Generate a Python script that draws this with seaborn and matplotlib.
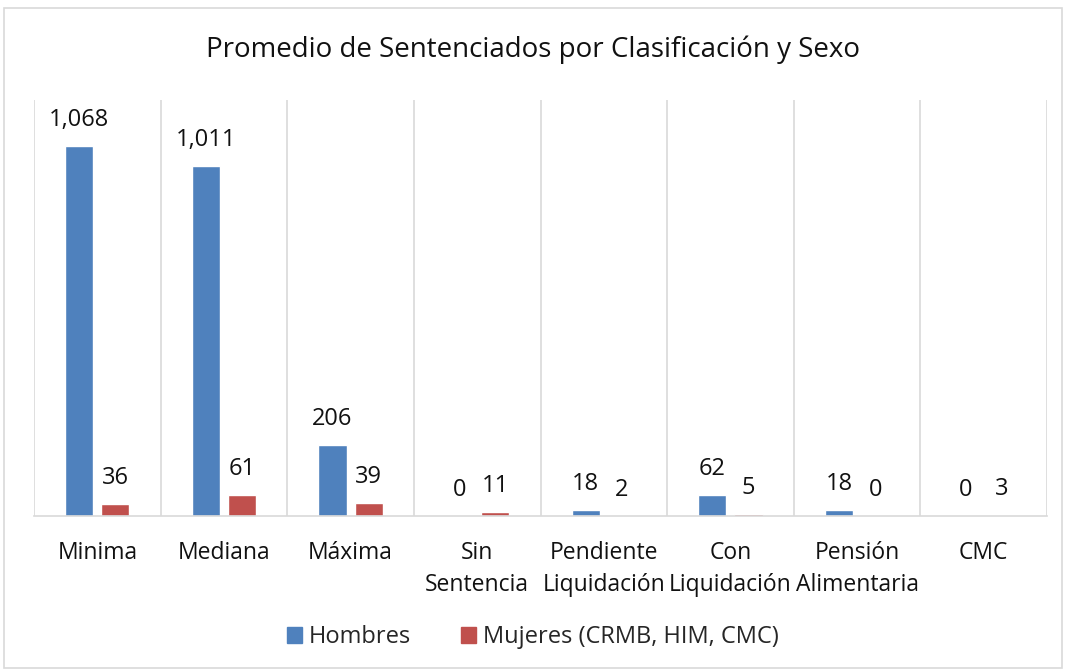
import numpy as np
import pandas as pd
import seaborn as sns
import matplotlib.pyplot as plt
from matplotlib.patches import Rectangle

categorias = ['Minima', 'Mediana', 'Máxima', 'Sin\nSentencia', 'Pendiente\nLiquidación',
              'Con\nLiquidación', 'Pensión\nAlimentaria', 'CMC']
hombres = [1068, 1011, 206, 0, 18, 62, 18, 0]
mujeres = [36, 61, 39, 11, 2, 5, 0, 3]
series = ['Hombres', 'Mujeres (CRMB, HIM, CMC)']
colores = ['#4F81BD', '#C0504D']

df = pd.DataFrame({
    'categoria': categorias * 2,
    'valor': hombres + mujeres,
    'sexo': [series[0]] * len(categorias) + [series[1]] * len(categorias),
})

sns.set_theme(style='white')
plt.rcParams['font.family'] = ['Open Sans', 'DejaVu Sans']

fig = plt.figure(figsize=(10.66, 6.72), dpi=100)
ax = fig.add_axes([0.0319, 0.232, 0.9503, 0.619])

sns.barplot(data=df, x='categoria', y='valor', hue='sexo', palette=colores,
            width=0.57, gap=0.22, ax=ax, legend=True, saturation=1)

for cont in ax.containers:
    labels = [f'{int(v):,}' for v in cont.datavalues]
    ax.bar_label(cont, labels=labels, padding=10, fontsize=17, color='#111111')

ax.set_ylim(0, 1200)
ax.set_xlim(-0.5, len(categorias) - 0.5)
ax.set_yticks([])
ax.set_xlabel('')
ax.set_ylabel('')
ax.set_xticks(np.arange(-0.5, len(categorias), 1), minor=True)
ax.grid(which='minor', axis='x', color='#D9D9D9', linewidth=1.2)
ax.tick_params(axis='x', which='both', length=0, labelsize=16.5, pad=18, colors='#111111')
for lbl in ax.get_xticklabels():
    lbl.set_linespacing(1.45)
for s in ['top', 'left', 'right']:
    ax.spines[s].set_visible(False)
ax.spines['bottom'].set_color('#D9D9D9')
ax.spines['bottom'].set_linewidth(1.2)

fig.text(0.5, 0.926, 'Promedio de Sentenciados por Clasificación y Sexo', ha='center', va='center',
         fontsize=20, color='#111111')

ax.legend_.remove()
handles = [Rectangle((0, 0), 1, 1, color=c) for c in colores]
fig.legend(handles, series, loc='center', bbox_to_anchor=(0.5, 0.052), ncol=2, frameon=False,
           fontsize=17, handlelength=0.65, handleheight=0.65, columnspacing=2.1, handletextpad=0.3)

fig.patches.append(Rectangle((4 / 1066, 4 / 672), 1058 / 1066, 660 / 672, transform=fig.transFigure,
                             fill=False, edgecolor='#D9D9D9', linewidth=1.2))

fig.savefig('out.png', dpi=100)
